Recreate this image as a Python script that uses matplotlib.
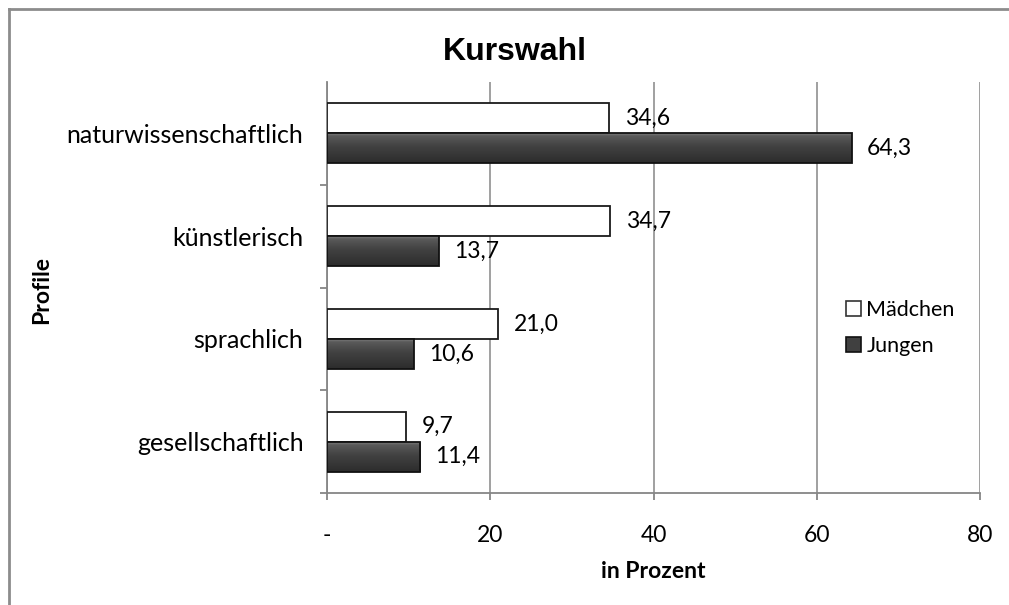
import numpy as np
import matplotlib
matplotlib.use('Agg')
import matplotlib.pyplot as plt
from matplotlib.lines import Line2D
from matplotlib.colors import LinearSegmentedColormap

categories = ['naturwissenschaftlich', 'künstlerisch', 'sprachlich', 'gesellschaftlich']
maedchen = [34.6, 34.7, 21.0, 9.7]
jungen = [64.3, 13.7, 10.6, 11.4]
xticks = [0, 20, 40, 60, 80]
xtick_labels = ['-', '20', '40', '60', '80']

label_font = 'Lato'
grey = '#868686'
fs = 16.5

fig = plt.figure(figsize=(10.09, 6.05), dpi=100)
ax = fig.add_axes([327/1009, 1 - 493/605, 653/1009, 411/605])

y = np.arange(len(categories))
h = 0.292

# Mädchen: white bars above, Jungen: dark bars below
b1 = ax.barh(y - h/2, maedchen, height=h, color='white', edgecolor='#1a1a1a', linewidth=1.3, zorder=3)
b2 = ax.barh(y + h/2, jungen, height=h, color='#3a3a3a', linewidth=0, zorder=3)

# bevel-like gradient on the dark bars
bevel = LinearSegmentedColormap.from_list('bevel', [(0, '#8a8a8a'), (0.12, '#5a5a5a'),
                                                   (0.45, '#424242'), (1, '#2c2c2c')])
grad = np.linspace(0, 1, 64).reshape(-1, 1)
for p in b2:
    x0, y0 = p.get_x(), p.get_y()
    im = ax.imshow(grad, cmap=bevel, aspect='auto', origin='upper',
                   extent=(x0, x0 + p.get_width(), y0 + p.get_height(), y0), zorder=4)
    im.set_clip_path(p)
ax.barh(y + h/2, jungen, height=h, fill=False, edgecolor='#111111', linewidth=1.3, zorder=5)

fmt = lambda v: f'{v:.1f}'.replace('.', ',')
ax.bar_label(b1, labels=[fmt(v) for v in maedchen], padding=11, fontsize=fs, family=label_font)
ax.bar_label(b2, labels=[fmt(v) for v in jungen], padding=11, fontsize=fs, family=label_font)

ax.set_xlim(0, 80)
ax.set_ylim(len(categories) - 0.5, -0.5)
ax.set_xticks(xticks)
ax.set_xticklabels(xtick_labels, fontsize=fs, family=label_font)
ax.set_yticks(y)
ax.set_yticklabels(categories, fontsize=18, family=label_font)
ax.set_yticks(np.arange(0.5, len(categories)), minor=True)
ax.tick_params(axis='y', which='major', length=0, pad=17)
ax.tick_params(axis='y', which='minor', length=5, color=grey, width=1.3, direction='out')
ax.tick_params(axis='x', length=5, color=grey, width=1.3, direction='out', pad=18)

ax.grid(axis='x', color=grey, linewidth=1.1, zorder=0)
ax.set_axisbelow(True)
for s in ['top', 'right']:
    ax.spines[s].set_visible(False)
for s in ['left', 'bottom']:
    ax.spines[s].set_color(grey)
    ax.spines[s].set_linewidth(1.3)

ax.set_xlabel('in Prozent', fontsize=fs, fontweight='bold', family=label_font)
ax.xaxis.set_label_coords(0.5, -(571 - 493) / 411)
ax.xaxis.label.set_va('center')
fig.text(42/1009, 1 - 290/605, 'Profile', rotation=90, fontsize=fs, fontweight='bold',
         family=label_font, ha='center', va='center')

fig.text(515/1009, 1 - 52/605, 'Kurswahl', fontsize=23, fontweight='bold',
         family='Liberation Sans', ha='center', va='center')

handles = [plt.Rectangle((0, 0), 1, 1, facecolor='white', edgecolor='#333333', linewidth=1.2),
           plt.Rectangle((0, 0), 1, 1, facecolor='#404040', edgecolor='#111111', linewidth=1.2)]
fig.legend(handles, ['Mädchen', 'Jungen'], loc='center left',
           bbox_to_anchor=(846/1009, 1 - 328/605), frameon=False,
           prop={'family': label_font, 'size': 15.5}, handlelength=0.7, handleheight=0.7,
           handletextpad=0.25, labelspacing=0.75, borderpad=0, borderaxespad=0)

# outer chart frame (only top and left visible in the crop)
fig.add_artist(Line2D([8.5/1009, 1], [1 - 8.5/605, 1 - 8.5/605], color='#8c8c8c', linewidth=2, transform=fig.transFigure))
fig.add_artist(Line2D([8.5/1009, 8.5/1009], [0, 1 - 8.5/605], color='#8c8c8c', linewidth=2, transform=fig.transFigure))

fig.savefig('out.png', dpi=100)
